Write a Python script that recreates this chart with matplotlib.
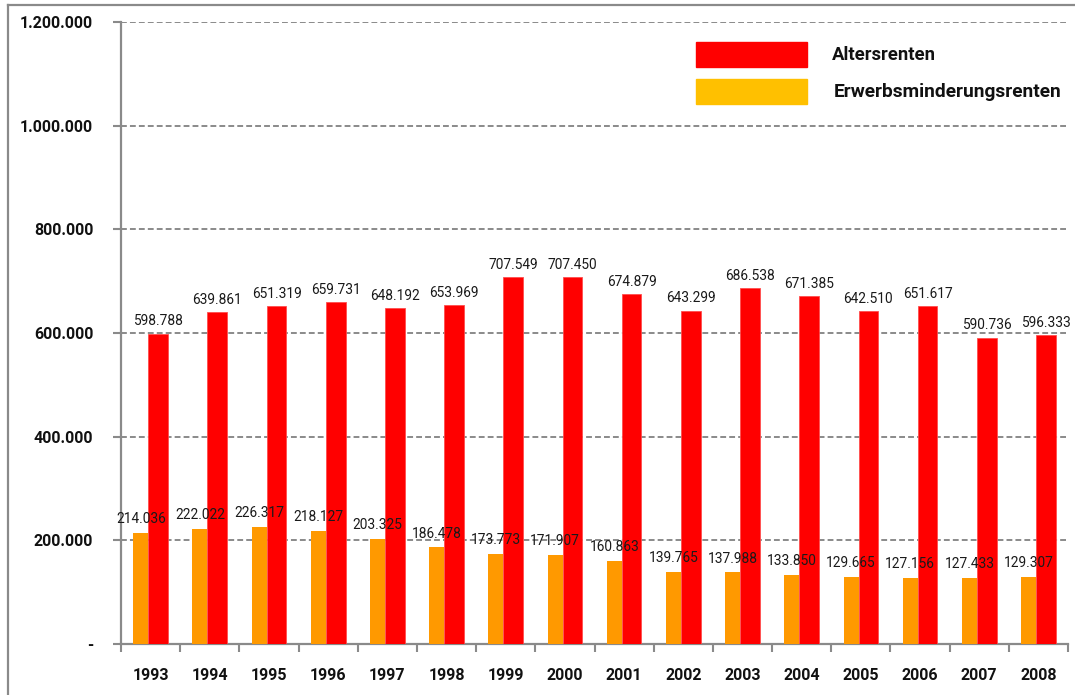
import matplotlib.pyplot as plt
from matplotlib.lines import Line2D
from matplotlib.patches import Rectangle
from matplotlib.ticker import FuncFormatter, FixedLocator
import numpy as np

years = ['1993', '1994', '1995', '1996', '1997', '1998', '1999', '2000',
         '2001', '2002', '2003', '2004', '2005', '2006', '2007', '2008']
altersrenten = [598788, 639861, 651319, 659731, 648192, 653969, 707549, 707450,
                674879, 643299, 686538, 671385, 642510, 651617, 590736, 596333]
erwerbsminderung = [214036, 222022, 226317, 218127, 203325, 186478, 173773, 171907,
                    160863, 139765, 137988, 133850, 129665, 127156, 127433, 129307]

grey = '#8a8a8a'
red = '#ff0000'
orange = '#ff9900'
legend_orange = '#ffc000'


def de_fmt(v, pos=None):
    if v == 0:
        return '-'
    return f'{v:,.0f}'.replace(',', '.')


fig = plt.figure(figsize=(10.75, 6.95), dpi=100)
ax = fig.add_axes([121 / 1075, 1 - 644 / 695, (1068 - 121) / 1075, (644 - 22) / 695])

x = np.arange(len(years))
ow, rw = 0.253, 0.333
ox = x - 0.039 - ow / 2
rx = x - 0.039 + rw / 2
ax.bar(ox, erwerbsminderung, width=ow, color=orange, zorder=3)
ax.bar(rx, altersrenten, width=rw, color=red, edgecolor='#ff4d4d', linewidth=0.6, zorder=3)

for i in range(len(years)):
    ax.annotate(de_fmt(erwerbsminderung[i]), (ox[i], erwerbsminderung[i]),
                xytext=(0, 7), textcoords='offset points', ha='center', va='baseline',
                fontsize=9.9, family='Roboto', color='#1a1a1a', zorder=4)
    ax.annotate(de_fmt(altersrenten[i]), (rx[i], altersrenten[i]),
                xytext=(0, 6), textcoords='offset points', ha='center', va='baseline',
                fontsize=9.9, family='Roboto', color='#1a1a1a', zorder=4)

ax.set_xlim(-0.5, len(years) - 0.5)
ax.set_ylim(0, 1200000)
ax.set_yticks(np.arange(0, 1200001, 200000))
ax.yaxis.set_major_formatter(FuncFormatter(de_fmt))
ax.set_xticks(x)
ax.set_xticklabels(years)
ax.xaxis.set_minor_locator(FixedLocator(np.arange(-0.5, len(years), 1.0)))

ax.tick_params(axis='x', which='major', length=0, pad=17)
ax.tick_params(axis='x', which='minor', length=6, width=1.5, color=grey)
ax.tick_params(axis='y', length=6, width=1.5, color=grey, pad=14)
for lab in ax.get_xticklabels() + ax.get_yticklabels():
    lab.set_family('Roboto')
    lab.set_fontweight('bold')
    lab.set_fontsize(11.5)
    lab.set_color('#111111')

ax.grid(axis='y', color=grey, linewidth=1.4, linestyle=(0, (3, 1.6)), zorder=0)
for s in ['top', 'right']:
    ax.spines[s].set_visible(False)
for s in ['left', 'bottom']:
    ax.spines[s].set_color(grey)
    ax.spines[s].set_linewidth(1.6)

# legend drawn by hand
W, H = 1075, 695
fig.patches.append(Rectangle((696 / W, 1 - 67 / H), 111 / W, 25 / H,
                             transform=fig.transFigure, color=red))
fig.patches.append(Rectangle((696 / W, 1 - 104 / H), 111 / W, 25 / H,
                             transform=fig.transFigure, color=legend_orange))
fig.text(832 / W, 1 - 55 / H, 'Altersrenten', fontsize=13.3, fontweight='bold',
         family='Roboto', va='center', ha='left', color='#111111')
fig.text(834 / W, 1 - 92 / H, 'Erwerbsminderungsrenten', fontsize=13.8, fontweight='bold',
         family='Roboto', va='center', ha='left', color='#111111')

# outer frame (only top and left visible)
fig.add_artist(Line2D([8 / W, 1], [1 - 5 / H, 1 - 5 / H], color=grey, linewidth=1.6,
                      transform=fig.transFigure))
fig.add_artist(Line2D([8 / W, 8 / W], [0, 1 - 5 / H], color=grey, linewidth=1.6,
                      transform=fig.transFigure))

fig.savefig('out.png', dpi=100)
